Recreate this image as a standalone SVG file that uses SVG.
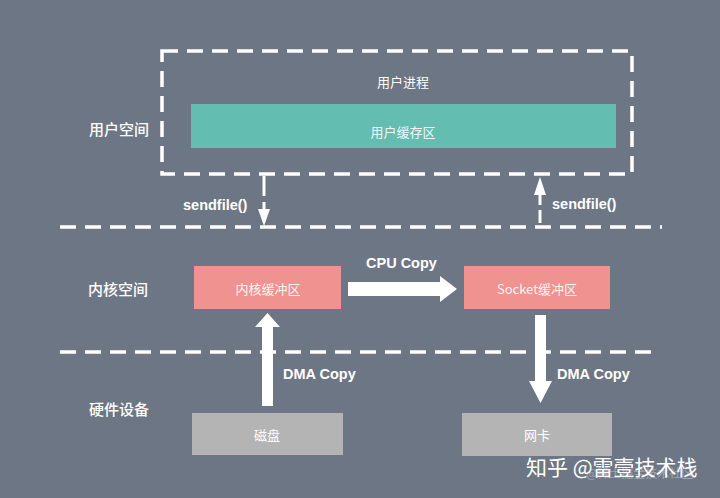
<svg xmlns="http://www.w3.org/2000/svg" width="720" height="498" viewBox="0 0 720 498">
<style>
.t{font-family:"Noto Sans CJK SC","Liberation Sans",sans-serif;fill:#fff;font-size:13px;text-anchor:middle;dominant-baseline:central}
.s{font-size:15px;font-weight:500}
.l{font-family:"Liberation Sans","Noto Sans CJK SC",sans-serif;fill:#fff;font-size:14.5px;font-weight:bold;dominant-baseline:central}
.d{fill:none;stroke:#fff;stroke-width:3.5;stroke-dasharray:16 9}
.a{fill:#fff;stroke:none}
</style>
<rect width="720" height="498" fill="#6d7684"/>
<g id="user-process">
<rect x="162" y="51" width="470" height="123" class="d"/>
<text x="403" y="81" class="t" font-size="14">用户进程</text>
</g>
<g id="user-buffer">
<rect x="191" y="104" width="425" height="44" fill="#63bdb1"/>
<text x="403" y="131" class="t" opacity="0.9">用户缓存区</text>
</g>
<g id="labels">
<text x="119" y="128" class="t s">用户空间</text>
<text x="118" y="288" class="t s">内核空间</text>
<text x="119" y="408" class="t s">硬件设备</text>
</g>
<g id="dividers">
<line x1="60" y1="227" x2="662" y2="227" class="d"/>
<line x1="60" y1="352" x2="658" y2="352" class="d"/>
</g>
<g id="kernel-buffer">
<rect x="194" y="266" width="147" height="43" fill="#f0928f"/>
<text x="268" y="288" class="t" opacity="0.9">内核缓冲区</text>
</g>
<g id="socket-buffer">
<rect x="464" y="266" width="146" height="43" fill="#f0928f"/>
<text x="537" y="288" class="t" opacity="0.9">Socket缓冲区</text>
</g>
<g id="disk">
<rect x="192" y="413" width="151" height="42" fill="#b4b4b4"/>
<text x="267" y="434" class="t">磁盘</text>
</g>
<g id="nic">
<rect x="462" y="413" width="150" height="43" fill="#b4b4b4"/>
<text x="537" y="434" class="t">网卡</text>
</g>
<g id="connectors">
<line x1="264" y1="176" x2="264" y2="196" stroke="#fff" stroke-width="3"/>
<line x1="264" y1="202" x2="264" y2="210" stroke="#fff" stroke-width="3"/>
<polygon points="258,209 270,209 264,226" class="a"/>
<line x1="540" y1="223" x2="540" y2="210" stroke="#fff" stroke-width="3"/>
<line x1="540" y1="205" x2="540" y2="194" stroke="#fff" stroke-width="3"/>
<polygon points="534,195 546,195 540,177" class="a"/>
<polygon points="348,282 440,282 440,276 457,289 440,302 440,296 348,296" class="a"/>
<polygon points="262,406 262,327 255,327 267.5,313 280,327 273,327 273,406" class="a"/>
<polygon points="535,315 546,315 546,381 552,381 540.5,403 529,381 535,381" class="a"/>
<text x="183" y="205" class="l">sendfile()</text>
<text x="552" y="204" class="l">sendfile()</text>
<text x="366" y="263" class="l">CPU Copy</text>
<text x="283" y="374" class="l">DMA Copy</text>
<text x="557" y="374" class="l">DMA Copy</text>
</g>
<g id="watermark">
<text x="586" y="478" font-family="Noto Sans CJK SC,sans-serif" font-size="12" fill="#fff" opacity="0.35">@稀土掘金技术社区</text>
<text x="526" y="466" font-family="Noto Sans CJK SC,sans-serif" font-size="21" fill="#fff" dominant-baseline="central">知乎 @雷壹技术栈</text>
</g>
</svg>
